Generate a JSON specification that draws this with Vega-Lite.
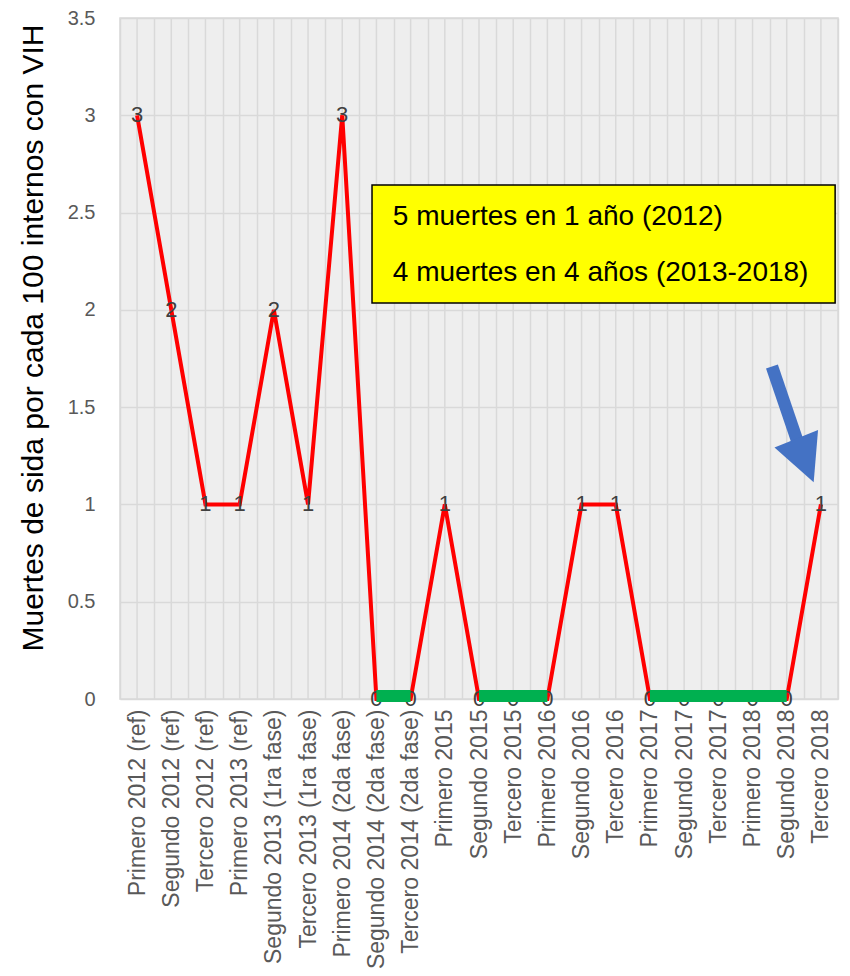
{
  "$schema": "https://vega.github.io/schema/vega-lite/v6.json",
  "width": 718,
  "height": 681,
  "autosize": {"type": "none"},
  "padding": {"left": 120, "top": 18, "right": 12, "bottom": 277},
  "background": "#ffffff",
  "config": {
    "view": {"fill": "#eeeeee", "stroke": "#d9d9d9", "strokeWidth": 1.5},
    "font": "Liberation Sans"
  },
  "datasets": {
    "serie": [
      {"periodo": "Primero 2012 (ref)", "valor": 3, "verde": null},
      {"periodo": "Segundo 2012 (ref)", "valor": 2, "verde": null},
      {"periodo": "Tercero 2012 (ref)", "valor": 1, "verde": null},
      {"periodo": "Primero 2013 (ref)", "valor": 1, "verde": null},
      {"periodo": "Segundo 2013 (1ra fase)", "valor": 2, "verde": null},
      {"periodo": "Tercero 2013 (1ra fase)", "valor": 1, "verde": null},
      {"periodo": "Primero 2014 (2da fase)", "valor": 3, "verde": null},
      {"periodo": "Segundo 2014 (2da fase)", "valor": 0, "verde": 0},
      {"periodo": "Tercero 2014 (2da fase)", "valor": 0, "verde": 0},
      {"periodo": "Primero 2015", "valor": 1, "verde": null},
      {"periodo": "Segundo 2015", "valor": 0, "verde": 0},
      {"periodo": "Tercero 2015", "valor": 0, "verde": 0},
      {"periodo": "Primero 2016", "valor": 0, "verde": 0},
      {"periodo": "Segundo 2016", "valor": 1, "verde": null},
      {"periodo": "Tercero 2016", "valor": 1, "verde": null},
      {"periodo": "Primero 2017", "valor": 0, "verde": 0},
      {"periodo": "Segundo 2017", "valor": 0, "verde": 0},
      {"periodo": "Tercero 2017", "valor": 0, "verde": 0},
      {"periodo": "Primero 2018", "valor": 0, "verde": 0},
      {"periodo": "Segundo 2018", "valor": 0, "verde": 0},
      {"periodo": "Tercero 2018", "valor": 1, "verde": null}
    ],
    "caja": [{"x1": 0.351, "x2": 0.996, "y1": 2.035, "y2": 2.642}],
    "textos": [
      {"tx": 0.38, "ty": 2.477, "texto": "5 muertes en 1 año (2012)"},
      {"tx": 0.38, "ty": 2.189, "texto": "4 muertes en 4 años (2013-2018)"}
    ],
    "flecha": [{"ax": 0.908, "ay": 1.709, "ax2": 0.9457, "ay2": 1.3}],
    "punta": [{"hx": 0.954, "hy": 1.226}]
  },
  "resolve": {"scale": {"x": "independent"}},
  "layer": [
    {
      "data": {"name": "serie"},
      "encoding": {
        "x": {
          "field": "periodo",
          "type": "nominal",
          "sort": null,
          "scale": {"type": "band", "paddingInner": 0, "paddingOuter": 0},
          "axis": {
            "title": null,
            "grid": true,
            "tickBand": "extent",
            "gridColor": "#d9d9d9",
            "gridWidth": 1.5,
            "ticks": false,
            "domain": false,
            "labelAngle": -90,
            "labelAlign": "right",
            "labelBaseline": "middle",
            "labelPadding": 10,
            "labelFontSize": 23,
            "labelColor": "#595959",
            "labelOverlap": false,
            "labelBound": false,
            "labelLimit": 0
          }
        }
      },
      "layer": [
        {
          "mark": {"type": "rule", "color": "#d9d9d9", "strokeWidth": 1.5}
        },
        {
          "mark": {"type": "line", "color": "#ff0000", "strokeWidth": 4, "strokeJoin": "miter"},
          "encoding": {
            "y": {
              "field": "valor",
              "type": "quantitative",
              "scale": {"domain": [0, 3.5], "nice": false},
              "axis": {
                "values": [0, 0.5, 1, 1.5, 2, 2.5, 3, 3.5],
                "format": ".1~f",
                "grid": true,
                "gridColor": "#d9d9d9",
                "gridWidth": 1.5,
                "ticks": false,
                "domain": false,
                "labelFontSize": 20,
                "labelColor": "#595959",
                "labelPadding": 25,
                "title": "Muertes de sida por cada 100 internos con VIH",
                "titleFontSize": 30,
                "titleFontWeight": "normal",
                "titleColor": "#000000",
                "titleAngle": -90,
                "titleAlign": "center",
                "titleBaseline": "alphabetic",
                "titleX": -78,
                "titleY": 319.5
              }
            }
          }
        },
        {
          "mark": {"type": "text", "fontSize": 22, "color": "#404040", "baseline": "middle", "align": "center"},
          "encoding": {
            "y": {"field": "valor", "type": "quantitative"},
            "text": {"field": "valor", "type": "quantitative"}
          }
        },
        {
          "mark": {"type": "line", "color": "#00b050", "strokeWidth": 12, "strokeCap": "butt", "yOffset": -3},
          "encoding": {
            "y": {"field": "verde", "type": "quantitative"}
          }
        }
      ]
    },
    {
      "layer": [
        {
          "data": {"name": "caja"},
          "mark": {"type": "rect", "fill": "#ffff00", "stroke": "#000000", "strokeWidth": 1.5},
          "encoding": {
            "x": {"field": "x1", "type": "quantitative", "scale": {"domain": [0, 1], "nice": false, "zero": false}, "axis": null},
            "x2": {"field": "x2"},
            "y": {"field": "y1", "type": "quantitative"},
            "y2": {"field": "y2"}
          }
        },
        {
          "data": {"name": "textos"},
          "mark": {"type": "text", "fontSize": 28, "color": "#000000", "align": "left", "baseline": "middle"},
          "encoding": {
            "x": {"field": "tx", "type": "quantitative", "axis": null},
            "y": {"field": "ty", "type": "quantitative"},
            "text": {"field": "texto", "type": "nominal"}
          }
        },
        {
          "data": {"name": "flecha"},
          "mark": {"type": "rule", "color": "#4472c4", "strokeWidth": 12.5, "strokeCap": "butt"},
          "encoding": {
            "x": {"field": "ax", "type": "quantitative", "axis": null},
            "y": {"field": "ay", "type": "quantitative"},
            "x2": {"field": "ax2"},
            "y2": {"field": "ay2"}
          }
        },
        {
          "data": {"name": "punta"},
          "mark": {"type": "point", "shape": "M-1,-1L1,-1L0,1Z", "filled": true, "color": "#4472c4", "opacity": 1, "size": 2200, "angle": -21.8},
          "encoding": {
            "x": {"field": "hx", "type": "quantitative", "axis": null},
            "y": {"field": "hy", "type": "quantitative"}
          }
        }
      ]
    }
  ]
}
